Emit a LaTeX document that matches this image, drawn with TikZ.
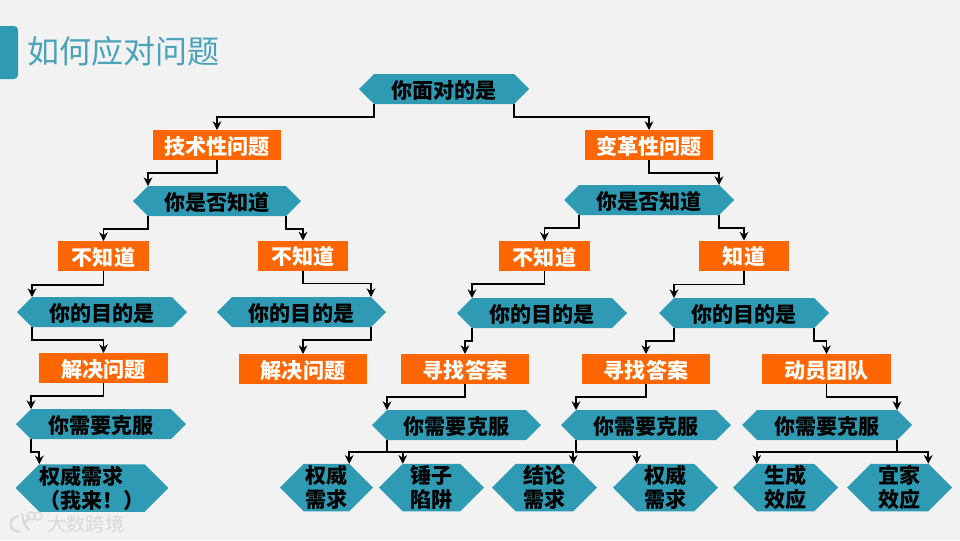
\documentclass[tikz,border=0pt]{standalone}
\usepackage{fontspec}
\setmainfont{Noto Sans CJK SC}
\usetikzlibrary{
    arrows.meta,
    positioning,
    shapes.symbols
}
\definecolor{hexteal}{HTML}{2E9AB4}
\definecolor{titleteal}{HTML}{4AA3B8}
\definecolor{boxorange}{HTML}{FF6600}
\definecolor{pagegray}{HTML}{F2F2F2}
\tikzset{
    % Arrows
    arrow tip/.tip={Stealth[length=6.5pt,width=6.5pt]},
    arr/.style={->,>={arrow tip},line width=1.3pt},
    %
    % Nodes
    label font/.style={font=\fontsize{15.8pt}{18pt}\selectfont\bfseries,text height=15.5pt,text depth=2pt},
    hexnode/.style={signal,signal from=nowhere,signal to=east and west,signal pointer angle=90,
        fill=hexteal,text=black,inner sep=0pt,outer sep=0pt,align=center,
        minimum height=30*.75pt,minimum width=#1*.75pt,label font},
    hexnode/.default=170,
    tallhex/.style={hexnode=#1,minimum height=47.5*.75pt,text height=,text depth=},
    tallhex/.default=105,
    ansbox/.style={fill=boxorange,text=white,inner sep=0pt,outer sep=0pt,
        minimum height=30*.75pt,minimum width=#1*.75pt,label font},
    ansbox/.default=128
}
\begin{document}
\begin{tikzpicture}[x=.75pt,y=-.75pt]
    \fill[pagegray] (0,0) rectangle (960,540);
    \useasboundingbox (0,0) rectangle (960,540);
    % Title
    \fill[hexteal] (0,26) -- (14,26) to[out=0,in=90] (18,30) -- (18,75) to[out=-90,in=0] (14,79) -- (0,79) -- cycle;
    \node[anchor=west,inner sep=0pt,text=titleteal,font=\fontsize{24pt}{24pt}\selectfont] (title) at (27,51) {如何应对问题};
    %
    % Level 1
    \node[hexnode] (start) at (444,89) {你面对的是};
    \node[ansbox] (tech) at (217,145) {技术性问题};
    \node[ansbox] (change) at (649,145) {变革性问题};
    %
    % Level 2
    \node[hexnode=168] (knowa) at (217,201) {你是否知道};
    \node[hexnode] (knowb) at (649,200) {你是否知道};
    \node[ansbox=91] (nota) at (103.5,256) {不知道};
    \node[ansbox=90] (notb) at (303,255.5) {不知道};
    \node[ansbox=91] (notc) at (544.5,256) {不知道};
    \node[ansbox=90] (yesd) at (744,255.5) {知道};
    %
    % Level 3
    \node[hexnode] (aima) at (102,312) {你的目的是};
    \node[hexnode=169] (aimb) at (301.5,312) {你的目的是};
    \node[hexnode] (aimc) at (542,313) {你的目的是};
    \node[hexnode] (aimd) at (744,313) {你的目的是};
    \node[ansbox=129] (solvea) at (103.5,368) {解决问题};
    \node[ansbox] (solveb) at (303,369) {解决问题};
    \node[ansbox] (findc) at (465,369) {寻找答案};
    \node[ansbox] (findd) at (646,369) {寻找答案};
    \node[ansbox=129] (team) at (826.5,369) {动员团队};
    %
    % Level 4
    \node[hexnode] (needa) at (101,424) {你需要克服};
    \node[hexnode=169] (needb) at (456.5,425) {你需要克服};
    \node[hexnode] (needc) at (646,425) {你需要克服};
    \node[hexnode] (needd) at (827,425) {你需要克服};
    \node[tallhex=152,align=left] (leaf) at (92,488) {权威需求\\（我来！）};
    \node[tallhex=93] (autha) at (326.5,487.5) {权威\\需求};
    \node[tallhex] (hammer) at (431.5,487.5) {锤子\\陷阱};
    \node[tallhex] (concl) at (544.5,487.5) {结论\\需求};
    \node[tallhex] (authb) at (665.5,487.5) {权威\\需求};
    \node[tallhex] (effect) at (785.5,487.5) {生成\\效应};
    \node[tallhex] (ikea) at (899.5,487.5) {宜家\\效应};
    %
    % Connectors
    \draw[arr] (start.south west) -- ++(0,13) -| (tech.north);
    \draw[arr] (start.south east) -- ++(0,13) -| (change.north);
    \draw[arr] (tech.south) -- ++(0,13) -| (knowa.north west);
    \draw[arr] (change.south) -- ++(0,13) -| (knowb.north east);
    \draw[arr] (knowa.south west) -- ++(0,13) -| (nota.north);
    \draw[arr] (knowa.south east) -- ++(0,13) -| (notb.north);
    \draw[arr] (knowb.south west) -- ++(0,13) -| (notc.north);
    \draw[arr] (knowb.south east) -- ++(0,13) -| (yesd.north);
    \draw[arr] (nota.south) -- ++(0,14) -| (aima.north west);
    \draw[arr] (notb.south) -- ++(0,13) -| (aimb.north east);
    \draw[arr] (notc.south) -- ++(0,13) -| (aimc.north west);
    \draw[arr] (yesd.south) -- ++(0,14) -| (aimd.north west);
    \draw[arr] (aima.south west) -- ++(0,13) -| (solvea.north);
    \draw[arr] (aimb.south east) -- ++(0,13) -| (solveb.north);
    \draw[arr] (aimc.south west) -- ++(0,13) -| (findc.north);
    \draw[arr] (aimd.south west) -- ++(0,13) -| (findd.north);
    \draw[arr] (aimd.south east) -- ++(0,13) -| (team.north);
    \draw[arr] (solvea.south) -- ++(0,13) -| (needa.north west);
    \draw[arr] (findc.south) -- ++(0,13) -| (needb.north west);
    \draw[arr] (findd.south) -- ++(0,13) -| (needc.north west);
    \draw[arr] (team.south) -- ++(0,13) -| (needd.north east);
    \draw[arr] (needa.south west) -- ++(0,13) -| (leaf.north west);
    \draw[arr] (needb.south west) -- ++(0,12) -| (autha.north east);
    \draw[arr] (needb.south west) -- ++(0,12) -| (hammer.north west);
    \draw[arr] (needb.south west) -- ++(0,12) -| (concl.north east);
    \draw[arr] (needc.south west) -- ++(0,12) -| (authb.north west);
    \draw[arr] (needd.south east) -- ++(0,12) -| (effect.north west);
    \draw[arr] (needd.south east) -- ++(0,12) -| (ikea.north east);
    %
    % Watermark
    \draw[gray!30,line width=1.6pt,line cap=round] (18,516) .. controls (8,519) and (8,530) .. (19,532) (22,514) -- (24,524) (29,517) -- (24,524) -- (29,530);
    \draw[gray!30,line width=1pt] (31,516) circle[radius=4] (38,516) circle[radius=4];
    \node[anchor=west,inner sep=0pt,text=gray!30,font=\fontsize{14.5pt}{14.5pt}\selectfont] (mark) at (47,524) {大数跨境};
\end{tikzpicture}
\end{document}
